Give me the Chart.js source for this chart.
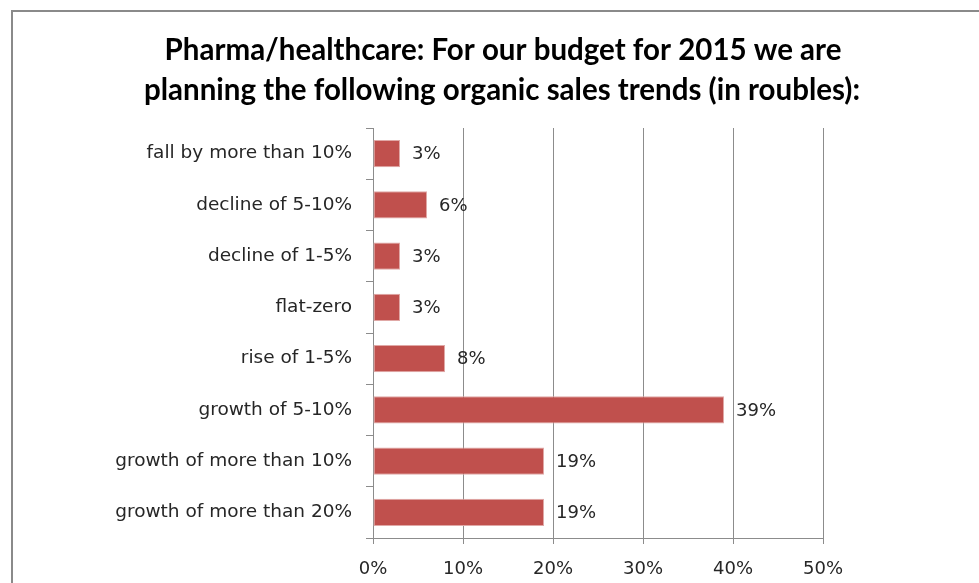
<!DOCTYPE html>
<html>
<head>
<meta charset="utf-8">
<script src="https://cdn.jsdelivr.net/npm/chart.js@4"></script>
<style>
  html, body { margin: 0; padding: 0; background: #ffffff; }
  #wrap { width: 979px; height: 583px; position: relative; }
</style>
</head>
<body>
<div id="wrap"><canvas id="c" width="979" height="583"></canvas></div>
<script>
// Survey answers: planned organic sales trend for the 2015 budget
const categories = [
  'fall by more than 10%',
  'decline of 5-10%',
  'decline of 1-5%',
  'flat-zero',
  'rise of 1-5%',
  'growth of 5-10%',
  'growth of more than 10%',
  'growth of more than 20%'
];
const shares = [3, 6, 3, 3, 8, 39, 19, 19];
const axisTicks = [0, 10, 20, 30, 40, 50];
const titleLines = [
  'Pharma/healthcare: For our budget for 2015 we are',
  'planning the following organic sales trends (in roubles):'
];

const TEXT = '#262626';
const GRID = '#8c8c8c';

// Outer frame of the chart object and the two-line heading, centred on the frame
const framePlugin = {
  id: 'frame',
  beforeDraw(chart) {
    const ctx = chart.ctx;
    ctx.save();
    ctx.strokeStyle = '#8a8a8a';
    ctx.lineWidth = 2;
    ctx.strokeRect(12, 11, 1000, 700);
    ctx.fillStyle = '#000000';
    ctx.font = 'bold 29.5px Lato';
    ctx.textAlign = 'center';
    ctx.textBaseline = 'middle';
    ctx.fillText(titleLines[0], 503, 50);
    ctx.fillText(titleLines[1], 502, 90);
    ctx.restore();
  }
};

// Percentage labels to the right of each bar
const valueLabels = {
  id: 'valueLabels',
  afterDatasetsDraw(chart) {
    const ctx = chart.ctx;
    const meta = chart.getDatasetMeta(0);
    ctx.save();
    ctx.font = '18px "DejaVu Sans"';
    ctx.fillStyle = TEXT;
    ctx.textAlign = 'left';
    ctx.textBaseline = 'middle';
    meta.data.forEach((bar, i) => {
      ctx.fillText(shares[i] + '%', bar.x + 12, bar.y + 1);
    });
    ctx.restore();
  }
};

new Chart(document.getElementById('c'), {
  type: 'bar',
  data: {
    labels: categories,
    datasets: [{
      data: shares,
      backgroundColor: '#c0504d',
      borderColor: '#e0a8a6',
      borderWidth: 1,
      borderSkipped: false,
      categoryPercentage: 1,
      barPercentage: 0.53
    }]
  },
  options: {
    indexAxis: 'y',
    responsive: false,
    animation: false,
    devicePixelRatio: 1,
    layout: { padding: { left: 14, top: 128, right: 156, bottom: 0 } },
    plugins: {
      legend: { display: false },
      tooltip: { enabled: false },
      title: { display: false }
    },
    scales: {
      x: {
        min: 0,
        max: 50,
        afterBuildTicks(scale) {
          scale.ticks = axisTicks.map(v => ({ value: v }));
        },
        afterFit(scale) { scale.height = 45; },
        ticks: {
          color: TEXT,
          font: { family: 'DejaVu Sans', size: 18 },
          padding: 15,
          callback: v => v + '%'
        },
        grid: { color: GRID, lineWidth: 1, tickLength: 6, drawTicks: true },
        border: { color: GRID, width: 1 }
      },
      y: {
        afterFit(scale) { scale.width = 373 - 14; },
        ticks: {
          color: TEXT,
          font: { family: 'DejaVu Sans', size: 18.5 },
          padding: 14
        },
        grid: { offset: true, drawOnChartArea: false, color: GRID, tickLength: 7 },
        border: { color: GRID, width: 1 }
      }
    }
  },
  plugins: [framePlugin, valueLabels]
});
</script>
</body>
</html>
